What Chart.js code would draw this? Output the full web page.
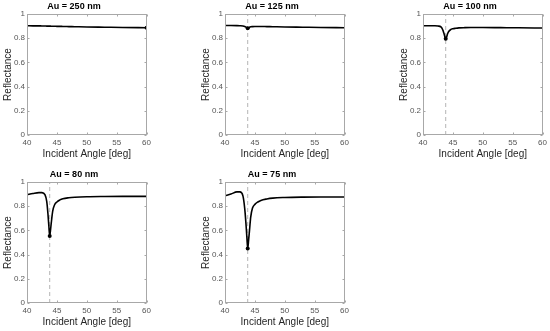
<!DOCTYPE html>
<html>
<head>
<meta charset="utf-8">
<script src="https://cdn.jsdelivr.net/npm/chart.js@4"></script>
<style>
  body { margin: 0; background: #fff; }
  #wrap { position: relative; width: 550px; height: 331px; background: #fff; }
  canvas { position: absolute; }
</style>
</head>
<body>
<div id="wrap">
  <canvas id="c250" width="154" height="165" style="left:0px;top:0px"></canvas>
  <canvas id="c125" width="154" height="165" style="left:198px;top:0px"></canvas>
  <canvas id="c100" width="154" height="165" style="left:396px;top:0px"></canvas>
  <canvas id="c80" width="154" height="165" style="left:0px;top:168px"></canvas>
  <canvas id="c75" width="154" height="165" style="left:198px;top:168px"></canvas>
</div>
<script>
// incident angle samples [deg]
const angles = [40, 41, 42, 42.5, 43, 43.3, 43.5, 43.65, 43.8, 43.95, 44.1, 44.3, 44.6, 45, 45.5, 46, 47, 48, 50, 53, 56, 60];

// reflectance for each Au thickness
const refl250 = [0.903, 0.902, 0.902, 0.901, 0.901, 0.900, 0.900, 0.900, 0.900, 0.900, 0.899, 0.899, 0.899, 0.898, 0.898, 0.897, 0.896, 0.895, 0.893, 0.891, 0.889, 0.886];
const refl125 = [0.905, 0.905, 0.904, 0.903, 0.901, 0.897, 0.892, 0.887, 0.882, 0.885, 0.890, 0.894, 0.896, 0.897, 0.897, 0.897, 0.896, 0.895, 0.893, 0.891, 0.889, 0.886];
const refl100 = [0.903, 0.903, 0.903, 0.901, 0.893, 0.870, 0.840, 0.815, 0.796, 0.810, 0.835, 0.855, 0.870, 0.878, 0.882, 0.885, 0.887, 0.888, 0.888, 0.887, 0.886, 0.884];
const refl80 = [0.895, 0.905, 0.912, 0.912, 0.895, 0.840, 0.740, 0.640, 0.553, 0.610, 0.680, 0.760, 0.810, 0.835, 0.852, 0.862, 0.870, 0.874, 0.878, 0.880, 0.881, 0.881];
const refl75 = [0.886, 0.900, 0.918, 0.918, 0.885, 0.780, 0.660, 0.550, 0.450, 0.520, 0.600, 0.710, 0.785, 0.815, 0.835, 0.848, 0.860, 0.867, 0.872, 0.875, 0.876, 0.876];

// resonance angle marker
const dashAngle = 43.8;

const xTicks = [40, 45, 50, 55, 60];
const yTicks = [0, 0.2, 0.4, 0.6, 0.8, 1];

const FONT = "'Liberation Sans', Arial, Helvetica, sans-serif";

// MATLAB style box with small inward ticks
const boxPlugin = {
  id: 'box',
  afterDraw(chart) {
    const { ctx, chartArea: a, scales } = chart;
    ctx.save();
    ctx.strokeStyle = '#a8a8a8';
    ctx.lineWidth = 1;
    const l = Math.round(a.left) + 0.5, r = Math.round(a.right) - 0.5;
    const t = Math.round(a.top) + 0.5, b = Math.round(a.bottom) - 0.5;
    ctx.strokeRect(l, t, r - l, b - t);
    ctx.beginPath();
    xTicks.forEach(v => {
      const px = Math.round(scales.x.getPixelForValue(v)) + 0.5;
      ctx.moveTo(px, b); ctx.lineTo(px, b - 2);
      ctx.moveTo(px, t); ctx.lineTo(px, t + 2);
    });
    yTicks.forEach(v => {
      const py = Math.round(scales.y.getPixelForValue(v)) + 0.5;
      ctx.moveTo(l, py); ctx.lineTo(l + 2, py);
      ctx.moveTo(r, py); ctx.lineTo(r - 2, py);
    });
    ctx.stroke();
    ctx.restore();
  }
};

function makeChart(id, title, refl, showDash) {
  const minIdx = refl.indexOf(Math.min(...refl));
  const datasets = [{
    data: angles.map((x, i) => ({ x, y: refl[i] })),
    showLine: true,
    borderColor: '#000',
    borderWidth: 1.6,
    cubicInterpolationMode: 'monotone',
    pointRadius: ctx => ctx.dataIndex === minIdx ? 2 : 0,
    pointBackgroundColor: '#000',
    pointBorderWidth: 0
  }];
  if (showDash) {
    datasets.push({
      data: [{ x: dashAngle, y: 0 }, { x: dashAngle, y: 1 }],
      showLine: true,
      borderColor: '#b4b4b4',
      borderWidth: 1,
      borderDash: [4, 3],
      pointRadius: 0
    });
  }

  new Chart(document.getElementById(id), {
    type: 'scatter',
    data: { datasets },
    options: {
      responsive: false,
      animation: false,
      layout: { padding: { top: 0, right: 6, bottom: 0, left: 0 } },
      plugins: {
        legend: { display: false },
        tooltip: { enabled: false },
        title: {
          display: true,
          text: title,
          color: '#000',
          font: { family: FONT, size: 9, weight: 'bold' },
          padding: { top: 1.6, bottom: 1.6 }
        }
      },
      scales: {
        x: {
          type: 'linear',
          min: 40,
          max: 60,
          afterBuildTicks: s => { s.ticks = xTicks.map(v => ({ value: v })); },
          afterFit: s => { s.height = 30; },
          ticks: { color: '#555', font: { family: FONT, size: 8 }, padding: 3, maxRotation: 0 },
          grid: { display: false, drawTicks: false },
          border: { display: false },
          title: {
            display: true,
            text: 'Incident Angle [deg]',
            color: '#262626',
            font: { family: FONT, size: 10 },
            padding: { top: 0, bottom: 5 }
          }
        },
        y: {
          min: 0,
          max: 1,
          afterBuildTicks: s => { s.ticks = yTicks.map(v => ({ value: v })); },
          afterFit: s => { s.width = 27; },
          ticks: {
            color: '#555',
            font: { family: FONT, size: 8 },
            padding: 2,
            callback: v => String(Math.round(v * 10) / 10)
          },
          grid: { display: false, drawTicks: false },
          border: { display: false },
          title: {
            display: true,
            text: 'Reflectance',
            color: '#262626',
            font: { family: FONT, size: 10 },
            padding: { top: 2, bottom: 0 }
          }
        }
      }
    },
    plugins: [boxPlugin]
  });
}

makeChart('c250', 'Au = 250 nm', refl250, false);
makeChart('c125', 'Au = 125 nm', refl125, true);
makeChart('c100', 'Au = 100 nm', refl100, true);
makeChart('c80', 'Au = 80 nm', refl80, true);
makeChart('c75', 'Au = 75 nm', refl75, true);
</script>
</body>
</html>
